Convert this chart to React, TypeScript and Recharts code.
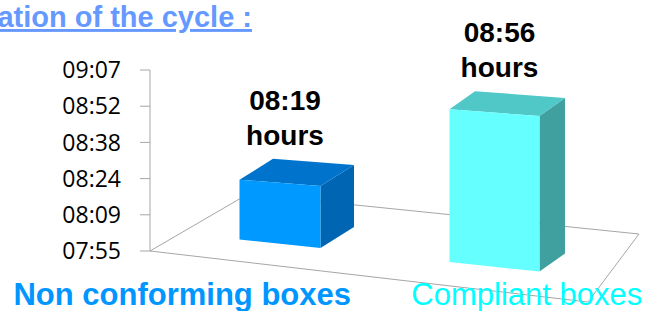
import { Bar, BarChart, Customized, LabelList, XAxis, YAxis } from "recharts"

const categories = ["Non conforming boxes", "Compliant boxes"]
const durations = ["08:19", "08:56"]
const yTicks = [0.33, 0.34, 0.35, 0.36, 0.37, 0.38]
const yTickLabels = ["07:55", "08:09", "08:24", "08:38", "08:52", "09:07"]

// hh:mm -> fraction of a day (the way the sheet stores times)
const toDays = (hhmm: string) => {
  const [h, m] = hhmm.split(":").map(Number)
  return (h * 60 + m) / 1440
}

const data = categories.map((name, i) => ({
  name,
  value: toDays(durations[i]),
  label: durations[i],
}))

const faces = [
  { front: "#0099FF", top: "#0074CC", side: "#0066B3" },
  { front: "#66FFFF", top: "#50C8C8", side: "#40A0A0" },
]
const catColors = ["#0096FF", "#00FFFF"]
const catWeights = ["bold", "normal"]
const catShift = [-98, 32]

const PLOT_LEFT = 150
const PLOT_BOTTOM = 251
const FONT = "'Liberation Sans', Arial, sans-serif"

function boxGeom(x: number, y: number, width: number, height: number) {
  const cx = x + width / 2
  const w = width * (0.805 + 0.000488 * cx)
  const x0 = cx - w / 2
  const x1 = cx + w / 2
  const base = y + height
  const yb = base + 0.107 * (x0 - PLOT_LEFT) - 21
  const yt = yb - height
  const dx = 33.5 - (cx - 280) * 0.0372
  const dy = -21 + (cx - 280) * 0.014
  return { cx, x0, x1, yb, yt, ytr: yt + 0.076 * w, ybr: yb + 0.105 * w, dx, dy }
}

const pts = (a: number[][]) => a.map((p) => p.join(",")).join(" ")

function Box3D(props: any) {
  const { x, y, width, height, index } = props
  const g = boxGeom(x, y, width, height)
  const c = faces[index % faces.length]
  return (
    <g>
      <polygon
        points={pts([
          [g.x1, g.ytr],
          [g.x1 + g.dx, g.ytr + g.dy],
          [g.x1 + g.dx, g.ybr + g.dy],
          [g.x1, g.ybr],
        ])}
        fill={c.side}
      />
      <polygon
        points={pts([
          [g.x0, g.yt],
          [g.x0 + g.dx, g.yt + g.dy],
          [g.x1 + g.dx, g.ytr + g.dy],
          [g.x1, g.ytr],
        ])}
        fill={c.top}
      />
      <polygon
        points={pts([
          [g.x0, g.yt],
          [g.x1, g.ytr],
          [g.x1, g.ybr],
          [g.x0, g.yb],
        ])}
        fill={c.front}
      />
    </g>
  )
}

function BoxLabel(props: any) {
  const vb = props.viewBox ?? props
  const { x, y, width, height } = vb
  const g = boxGeom(x, y, width, height)
  const top = g.yt + g.dy - 14
  return (
    <g fontFamily={FONT} fontWeight="bold" fontSize={28} fill="#000">
      <text x={g.cx + 5} y={top - 35} textAnchor="middle">
        {props.value}
      </text>
      <text x={g.cx + 5} y={top} textAnchor="middle">
        hours
      </text>
    </g>
  )
}

function CategoryTick(props: any) {
  const { x, y, payload } = props
  const i = props.index ?? payload.index ?? 0
  return (
    <text
      x={x + catShift[i]}
      y={y + 54}
      textAnchor="middle"
      fontFamily={FONT}
      fontSize={31}
      fontWeight={catWeights[i]}
      fill={catColors[i]}
    >
      {payload.value}
    </text>
  )
}

// perspective floor + cut-off title
function Floor() {
  const L = PLOT_LEFT
  const B = PLOT_BOTTOM
  return (
    <g>
      <polygon
        points={pts([
          [L, B],
          [L + 438, B + 51],
          [L + 489, B - 17],
          [L + 98, B - 57],
        ])}
        fill="none"
        stroke="#a6a6a6"
        strokeWidth={1}
      />
      <text
        x={252}
        y={27}
        textAnchor="end"
        fontFamily={FONT}
        fontWeight="bold"
        fontSize={29}
        fill="#6699FF"
        textDecoration="underline"
      >
        ation of the cycle :
      </text>
    </g>
  )
}

export default function App() {
  return (
    <div style={{ position: "absolute", left: 0, top: 0, width: 646, height: 311, background: "#fff" }}>
      <BarChart
        width={646}
        height={311}
        data={data}
        margin={{ top: 70, right: 6, bottom: 0, left: 0 }}
      >
        <Customized component={Floor} />
        <XAxis
          dataKey="name"
          height={60}
          axisLine={false}
          tickLine={false}
          tickSize={0}
          tickMargin={0}
          padding={{ left: 23, right: 38 }}
          tick={<CategoryTick />}
          interval={0}
        />
        <YAxis
          width={150}
          domain={[0.33, 0.38]}
          ticks={yTicks}
          tickFormatter={(v: number) => yTickLabels[yTicks.indexOf(v)] ?? ""}
          axisLine={{ stroke: "#a6a6a6" }}
          tickLine={{ stroke: "#a6a6a6" }}
          tickSize={10}
          tickMargin={19}
          tick={{ fontFamily: "'Open Sans', sans-serif", fontSize: 23, fill: "#000" }}
        />
        <Bar dataKey="value" barSize={86} shape={<Box3D />} isAnimationActive={false}>
          <LabelList dataKey="label" content={<BoxLabel />} />
        </Bar>
      </BarChart>
    </div>
  )
}
